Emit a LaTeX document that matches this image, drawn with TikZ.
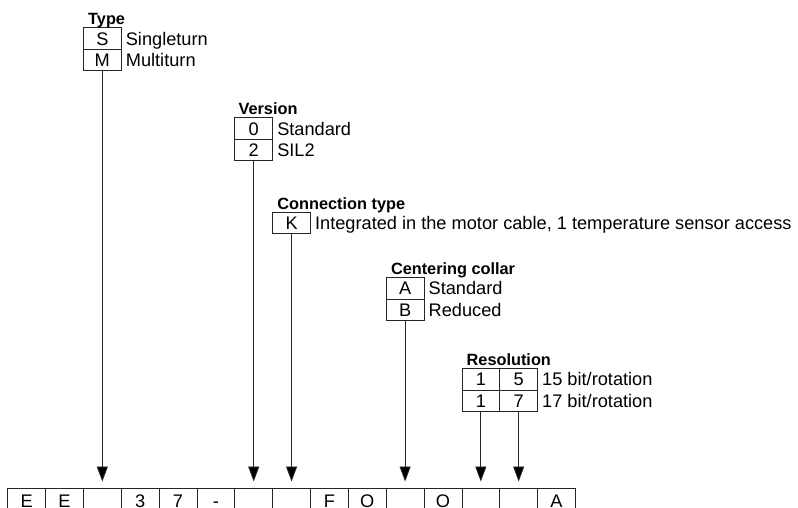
\documentclass[tikz,border=0pt]{standalone}
\usepackage{fontspec}
\setmainfont{Liberation Sans}
\usetikzlibrary{arrows.meta}
\begin{document}
\begin{tikzpicture}[x=1pt,y=-1pt,
  cell/.style={draw=black!85, line width=0.8pt, minimum width=37.85pt, minimum height=21.5pt,
    inner sep=0pt, anchor=north west, font=\fontsize{18.2}{21}\selectfont,
    text height=13pt, text depth=0pt},
  bcell/.style={cell, minimum height=27pt},
  desc/.style={anchor=west, inner sep=0pt, font=\fontsize{18.2}{21}\selectfont,
    text height=13pt, text depth=0pt},
  head/.style={anchor=base west, inner sep=0pt, font=\bfseries\fontsize{16.3}{19}\selectfont},
  arr/.style={draw=black!85, line width=0.8pt, -{Triangle[length=15pt,width=11pt,fill=black]}}]
\useasboundingbox (0,0) rectangle (798,508);
\clip (0,0) rectangle (798,508);
\fill[white] (0,0) rectangle (798,508);

% bottom row
\foreach \t [count=\i] in {E,E,{},3,7,-,{},{},F,O,{},O,{},{},A}
  \node[bcell] (c\i) at ({7.3+(\i-1)*37.85},487.5) {\t};

% Type
\node[cell] (tS) at ({7.3+2*37.85},27.5) {S};
\node[cell] (tM) at ({7.3+2*37.85},49) {M};
\node[head] (tH) at ({7.3+2*37.85+5},25) {Type};
\node[desc] (tSd) at ([xshift=4pt]tS.east) {Singleturn};
\node[desc] (tMd) at ([xshift=4pt]tM.east) {Multiturn};

% Version
\node[cell] (v0) at ({7.3+6*37.85},117.5) {0};
\node[cell] (v2) at ({7.3+6*37.85},139) {2};
\node[head] (vH) at ({7.3+6*37.85+4},115) {Version};
\node[desc] (v0d) at ([xshift=4pt]v0.east) {Standard};
\node[desc] (v2d) at ([xshift=4pt]v2.east) {SIL2};

% Connection type
\node[cell] (kK) at ({7.3+7*37.85},211.5) {K};
\node[head] (kH) at ({7.3+7*37.85+5},209) {Connection type};
\node[desc] (kKd) at ([xshift=4pt]kK.east) {Integrated in the motor cable, 1 temperature sensor access};

% Centering collar
\node[cell] (cA) at ({7.3+10*37.85},277) {A};
\node[cell] (cB) at ({7.3+10*37.85},298.5) {B};
\node[head] (cH) at ({7.3+10*37.85+5},274.5) {Centering collar};
\node[desc] (cAd) at ([xshift=4pt]cA.east) {Standard};
\node[desc] (cBd) at ([xshift=4pt]cB.east) {Reduced};

% Resolution
\node[cell] (r11) at ({7.3+12*37.85},368) {1};
\node[cell] (r12) at ({7.3+13*37.85},368) {5};
\node[cell] (r21) at ({7.3+12*37.85},389.5) {1};
\node[cell] (r22) at ({7.3+13*37.85},389.5) {7};
\node[head] (rH) at ({7.3+12*37.85+5},365.5) {Resolution};
\node[desc] (r1d) at ([xshift=4pt]r12.east) {15 bit/rotation};
\node[desc] (r2d) at ([xshift=4pt]r22.east) {17 bit/rotation};

% arrows
\draw[arr] (tM.south) -- ([yshift=6pt]c3.north);
\draw[arr] (v2.south) -- ([yshift=6pt]c7.north);
\draw[arr] (kK.south) -- ([yshift=6pt]c8.north);
\draw[arr] (cB.south) -- ([yshift=6pt]c11.north);
\draw[arr] (r21.south) -- ([yshift=6pt]c13.north);
\draw[arr] (r22.south) -- ([yshift=6pt]c14.north);
\end{tikzpicture}
\end{document}
